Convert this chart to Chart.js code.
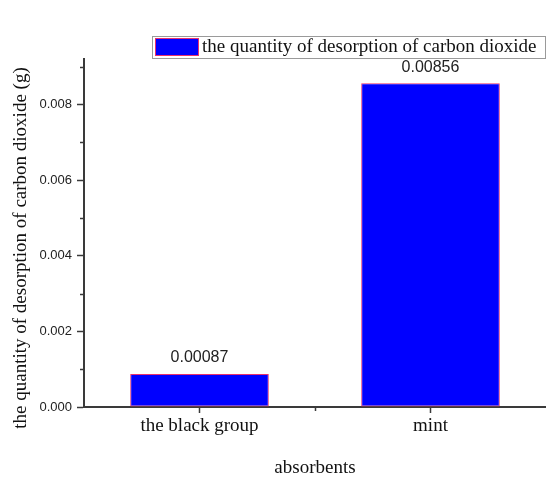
<!DOCTYPE html>
<html>
<head>
<meta charset="utf-8">
<script src="https://cdn.jsdelivr.net/npm/chart.js@4"></script>
<style>
  html, body { margin: 0; padding: 0; background: #fff; }
  #wrap { width: 546px; height: 481px; }
</style>
</head>
<body>
<div id="wrap"><canvas id="chart" width="546" height="481"></canvas></div>
<script>
// data
const categories = ['the black group', 'mint'];
const desorption = [0.00087, 0.00856];
const yTicks = [0, 0.002, 0.004, 0.006, 0.008];
const yMinorTicks = [0.001, 0.003, 0.005, 0.007, 0.009];
const seriesName = 'the quantity of desorption of carbon dioxide';
const xTitle = 'absorbents';
const yTitle = 'the quantity of desorption of carbon dioxide (g)';

// styles
const SERIF = '"Liberation Serif", "Times New Roman", serif';
const SANS = '"Liberation Sans", Arial, sans-serif';
const AXIS = '#3a3a3a';
const BAR_FILL = '#0000ff';
const BAR_EDGE = '#e8306e';

// minor ticks, value labels, rotated y title and the boxed legend
const decor = {
    id: 'decor',
    afterDraw(chart) {
        const { ctx, chartArea, scales: { x, y } } = chart;
        ctx.save();

        // minor ticks
        ctx.strokeStyle = AXIS;
        ctx.lineWidth = 1.5;
        yMinorTicks.forEach(v => {
            const py = Math.round(y.getPixelForValue(v)) + 0.5;
            ctx.beginPath();
            ctx.moveTo(chartArea.left - 4, py);
            ctx.lineTo(chartArea.left, py);
            ctx.stroke();
        });
        for (let i = 0; i < categories.length - 1; i++) {
            const px = Math.round((x.getPixelForValue(i) + x.getPixelForValue(i + 1)) / 2) + 0.5;
            ctx.beginPath();
            ctx.moveTo(px, chartArea.bottom);
            ctx.lineTo(px, chartArea.bottom + 4);
            ctx.stroke();
        }

        // value labels
        ctx.fillStyle = '#222';
        ctx.font = '16px ' + SANS;
        ctx.textAlign = 'center';
        ctx.textBaseline = 'bottom';
        chart.getDatasetMeta(0).data.forEach((bar, i) => {
            ctx.fillText(String(desorption[i]), bar.x, bar.y - 8);
        });

        // y title
        ctx.save();
        ctx.translate(21, 248);
        ctx.rotate(-Math.PI / 2);
        ctx.fillStyle = '#111';
        ctx.font = '19px ' + SERIF;
        ctx.textAlign = 'center';
        ctx.textBaseline = 'middle';
        ctx.fillText(yTitle, 0, 0);
        ctx.restore();

        // legend
        ctx.fillStyle = '#fff';
        ctx.fillRect(152.5, 36.5, 393, 22);
        ctx.strokeStyle = '#9a9a9a';
        ctx.lineWidth = 1;
        ctx.strokeRect(152.5, 36.5, 393, 22);
        ctx.fillStyle = BAR_FILL;
        ctx.fillRect(155.5, 38.5, 43, 17);
        ctx.strokeStyle = BAR_EDGE;
        ctx.strokeRect(155.5, 38.5, 43, 17);
        ctx.fillStyle = '#111';
        ctx.font = '19px ' + SERIF;
        ctx.textAlign = 'left';
        ctx.textBaseline = 'middle';
        ctx.fillText(seriesName, 202, 47.5);

        ctx.restore();
    }
};

const ctx = document.getElementById('chart').getContext('2d');
new Chart(ctx, {
    type: 'bar',
    data: {
        labels: categories,
        datasets: [{
            label: seriesName,
            data: desorption,
            backgroundColor: BAR_FILL,
            borderColor: BAR_EDGE,
            borderWidth: 1,
            borderSkipped: false,
            categoryPercentage: 1,
            barPercentage: 0.6
        }]
    },
    options: {
        responsive: false,
        animation: false,
        layout: { padding: { top: 59, right: 0, left: 0, bottom: 0 } },
        plugins: {
            legend: { display: false },
            tooltip: { enabled: false }
        },
        scales: {
            x: {
                grid: { display: true, offset: false, drawOnChartArea: false, tickLength: 6, tickColor: AXIS, tickWidth: 1.5 },
                border: { color: AXIS, width: 2 },
                ticks: { color: '#111', font: { family: SERIF, size: 19 }, padding: 2 },
                title: { display: true, text: xTitle, color: '#111', font: { family: SERIF, size: 19 }, padding: { top: 0, bottom: 2 } },
                afterFit: s => { s.height = 74; }
            },
            y: {
                min: 0,
                max: 0.0092,
                afterBuildTicks: s => { s.ticks = yTicks.map(v => ({ value: v })); },
                grid: { display: true, drawOnChartArea: false, tickLength: 7, tickColor: AXIS, tickWidth: 1.5 },
                border: { color: AXIS, width: 2 },
                ticks: {
                    color: '#222',
                    font: { family: SANS, size: 13 },
                    padding: 5,
                    callback: v => v.toFixed(3)
                },
                afterFit: s => { s.width = 84; }
            }
        }
    },
    plugins: [decor]
});
</script>
</body>
</html>
